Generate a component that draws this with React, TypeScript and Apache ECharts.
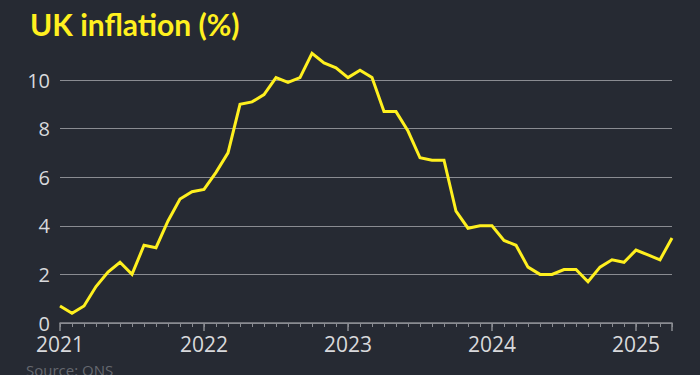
import React, { useEffect, useRef } from "react";
import * as echarts from "echarts";

const months: string[] = [];
for (let y = 2021; y <= 2025; y++) {
  for (let m = 1; m <= 12; m++) {
    if (y === 2025 && m > 4) break;
    months.push(`${y}-${String(m).padStart(2, "0")}`);
  }
}

const cpi2021 = [0.7, 0.4, 0.7, 1.5, 2.1, 2.5, 2.0, 3.2, 3.1, 4.2, 5.1, 5.4];
const cpi2022 = [5.5, 6.2, 7.0, 9.0, 9.1, 9.4, 10.1, 9.9, 10.1, 11.1, 10.7, 10.5];
const cpi2023 = [10.1, 10.4, 10.1, 8.7, 8.7, 7.9, 6.8, 6.7, 6.7, 4.6, 3.9, 4.0];
const cpi2024 = [4.0, 3.4, 3.2, 2.3, 2.0, 2.0, 2.2, 2.2, 1.7, 2.3, 2.6, 2.5];
const cpi2025 = [3.0, 2.8, 2.6, 3.5];
const inflation = [...cpi2021, ...cpi2022, ...cpi2023, ...cpi2024, ...cpi2025];

const yTicks = { min: 0, max: 10, interval: 2 };

const BG = "#262a33";
const YELLOW = "#fff01f";
const GRID = "#8a8c92";
const LABEL = "#d8d9dc";

export default function App() {
  const ref = useRef<HTMLDivElement>(null);
  useEffect(() => {
    document.body.style.margin = "0";
    const chart = echarts.init(ref.current!, null, { renderer: "svg" });
    const last = months.length - 1;
    const majorTick = (i: number) => i % 12 === 0 || i === last;
    chart.setOption({
      animation: false,
      backgroundColor: BG,
      textStyle: { fontFamily: "Open Sans" },
      title: {
        text: "UK inflation (%)",
        left: 25,
        top: 4,
        textStyle: { color: YELLOW, fontSize: 30, fontWeight: "bold", fontFamily: "Lato" },
      },
      graphic: [
        {
          type: "text",
          left: 26,
          top: 362,
          style: { text: "Source: ONS", fill: "#65686f", fontSize: 15, fontFamily: "Open Sans" },
        },
      ],
      grid: { left: 60, right: 28, top: 80, bottom: 52 },
      xAxis: [
        {
          type: "category",
          data: months,
          boundaryGap: false,
          axisLine: { show: true, lineStyle: { color: GRID, width: 1.5 } },
          axisTick: { show: true, interval: 0, length: 4, lineStyle: { color: GRID, width: 1 } },
          axisLabel: {
            interval: (i: number) => i % 12 === 0,
            formatter: (v: string) => v.slice(0, 4),
            color: LABEL,
            fontSize: 21,
            lineHeight: 18,
            margin: 12,
            fontFamily: "Open Sans",
          },
          splitLine: { show: false },
        },
        {
          type: "category",
          data: months,
          boundaryGap: false,
          position: "bottom",
          axisLine: { show: false },
          axisTick: { show: true, interval: (i: number) => majorTick(i), length: 8, lineStyle: { color: GRID, width: 1.5 } },
          axisLabel: { show: false },
          splitLine: { show: false },
        },
      ],
      yAxis: {
        type: "value",
        min: yTicks.min,
        max: yTicks.max,
        interval: yTicks.interval,
        axisLine: { show: false },
        axisTick: { show: false },
        axisLabel: { color: LABEL, fontSize: 20, lineHeight: 16, margin: 10, fontFamily: "Open Sans" },
        splitLine: { show: true, lineStyle: { color: GRID, width: 1 } },
      },
      series: [
        {
          type: "line",
          data: inflation,
          xAxisIndex: 0,
          clip: false,
          showSymbol: false,
          symbol: "none",
          lineStyle: { color: YELLOW, width: 3, join: "miter" },
        },
      ],
    });
    return () => chart.dispose();
  }, []);
  return <div ref={ref} style={{ width: 700, height: 375 }} />;
}
